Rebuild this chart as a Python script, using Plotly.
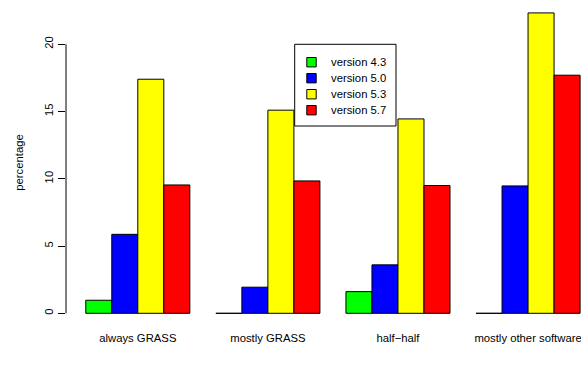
import plotly.graph_objects as go

# Share of users (percentage) by how much of their GIS work is done in GRASS
categories = ["always GRASS", "mostly GRASS", "half\u2212half", "mostly other software"]
versions = ["version 4.3", "version 5.0", "version 5.3", "version 5.7"]
colors = ["#00FF00", "#0000FF", "#FFFF00", "#FF0000"]

v43 = [0.97, 0.0, 1.61, 0.0]
v50 = [5.87, 1.94, 3.60, 9.47]
v53 = [17.40, 15.10, 14.45, 22.33]
v57 = [9.54, 9.84, 9.50, 17.70]
series = [v43, v50, v53, v57]

y_ticks = [0, 5, 10, 15, 20]

FONT = "Liberation Sans, Arial, Helvetica, sans-serif"
FS = 11.3

W, H = 581, 381
ML, MR, MT, MB = 66, 0, 0, 56
PW, PH = W - ML - MR, H - MT - MB


def px(x):
    """Horizontal pixel -> paper coordinate."""
    return (x - ML) / PW


def py(y):
    """Vertical pixel (from top) -> paper coordinate."""
    return (H - MB - y) / PH


fig = go.Figure()
for name, vals, col in zip(versions, series, colors):
    fig.add_trace(go.Bar(
        x=categories, y=vals, name=name, showlegend=False,
        marker=dict(color=col, line=dict(color="black", width=1)),
    ))

# y axis line only spans the tick range, as in base R graphics
fig.add_shape(type="line", xref="paper", yref="y",
              x0=0, x1=0, y0=y_ticks[0], y1=y_ticks[-1],
              line=dict(color="black", width=1))

# legend box drawn by hand (R-style compact spacing)
box_l, box_t, box_r, box_b = 294.7, 44.3, 396.0, 126.0
fig.add_shape(type="rect", xref="paper", yref="paper",
              x0=px(box_l), x1=px(box_r), y0=py(box_b), y1=py(box_t),
              line=dict(color="black", width=1), fillcolor="white", layer="above")
row0, row_step, sw = 62.2, 16.0, 9.4
for i, (name, col) in enumerate(zip(versions, colors)):
    cy = row0 + i * row_step
    fig.add_shape(type="rect", xref="paper", yref="paper",
                  x0=px(306.8), x1=px(306.8 + sw),
                  y0=py(cy + sw / 2), y1=py(cy - sw / 2),
                  line=dict(color="black", width=1), fillcolor=col, layer="above")
    fig.add_annotation(xref="paper", yref="paper", x=px(329.3), y=py(cy),
                       xanchor="left", yanchor="middle", text=name,
                       showarrow=False,
                       font=dict(family=FONT, size=FS, color="black"))

fig.update_layout(
    width=W, height=H,
    margin=dict(l=ML, r=MR, t=MT, b=MB, autoexpand=False),
    paper_bgcolor="white", plot_bgcolor="white",
    font=dict(family=FONT, size=FS, color="black"),
    barmode="group", bargap=0.2, bargroupgap=0.0,
    showlegend=False,
    xaxis=dict(
        type="category", range=[-0.552, 3.407],
        showline=False, showgrid=False, zeroline=False,
        ticks="", ticklabelstandoff=5, automargin=False,
        tickfont=dict(family=FONT, size=FS, color="black"),
    ),
    yaxis=dict(
        range=[-0.87, 23.29],
        tickvals=y_ticks, ticktext=[str(t) for t in y_ticks],
        ticks="outside", ticklen=7, tickcolor="black", tickwidth=1,
        tickangle=-90,
        showline=False, showgrid=False, zeroline=False,
        automargin=False,
        tickfont=dict(family=FONT, size=FS, color="black"),
        title=dict(text="percentage", standoff=17,
                   font=dict(family=FONT, size=FS, color="black")),
    ),
)

fig.write_html("out.html")
